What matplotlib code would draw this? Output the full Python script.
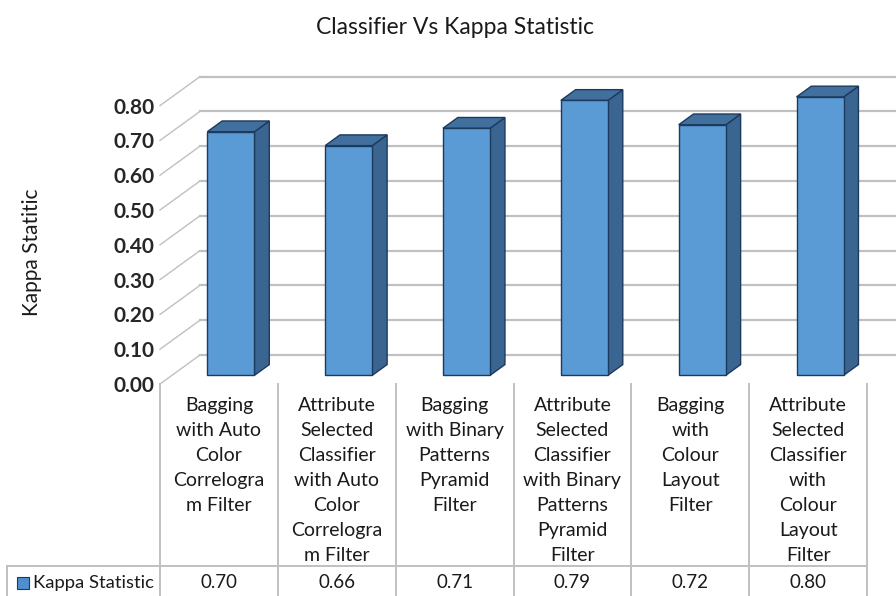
import matplotlib.pyplot as plt
from matplotlib.patches import Polygon, Rectangle

# classifier names, wrapped the way the data table shows them
categories = [
    "Bagging\nwith Auto\nColor\nCorrelogra\nm Filter",
    "Attribute\nSelected\nClassifier\nwith Auto\nColor\nCorrelogra\nm Filter",
    "Bagging\nwith Binary\nPatterns\nPyramid\nFilter",
    "Attribute\nSelected\nClassifier\nwith Binary\nPatterns\nPyramid\nFilter",
    "Bagging\nwith\nColour\nLayout\nFilter",
    "Attribute\nSelected\nClassifier\nwith\nColour\nLayout\nFilter",
]
kappa = [0.70, 0.66, 0.71, 0.79, 0.72, 0.80]
y_ticks = [0.0, 0.1, 0.2, 0.3, 0.4, 0.5, 0.6, 0.7, 0.8]
series_name = "Kappa Statistic"

plt.rcParams['font.family'] = ['Lato', 'DejaVu Sans']

W, H = 896, 596
fig = plt.figure(figsize=(W / 100, H / 100), dpi=100)
# front plane of the 3d box: x from 160px to 867px, y=0 at 212px from bottom
ax = fig.add_axes([160 / W, 212 / H, 707 / W, 278.4 / H])
ax.set_xlim(-0.5, 5.5)
ax.set_ylim(0, 0.8)
for s in ax.spines.values():
    s.set_visible(False)

ux = 6 / 707          # x data units per pixel
uy = 0.8 / 278.4      # y data units per pixel
DX, DY = 40, 29       # depth direction of the box in pixels


def depth(d):
    return d * DX * ux, d * DY * uy


def row(px_top):
    # y data value of a pixel row counted from the top of the figure
    return (H - px_top - 212) * uy


grid_col = "#c0c0c0"
wx, wy = depth(1.0)
for v in y_ticks:
    # back wall gridline and side wall diagonal
    ax.plot([-0.5 + wx, 5.5 + wx], [v + wy, v + wy], color=grid_col, lw=1.6,
            clip_on=False, zorder=1)
    ax.plot([-0.5, -0.5 + wx], [v, v + wy], color=grid_col, lw=1.0,
            clip_on=False, zorder=1)

# bars
bw = 0.40
d1, d2 = 0.30, 0.67
x1, y1 = depth(d1)
x2, y2 = depth(d2)
edge = "#1c3a5e"
for i, v in enumerate(kappa):
    r = i + bw / 2
    l = i - bw / 2
    side = Polygon([(r + x1, y1), (r + x2, y2), (r + x2, v + y2), (r + x1, v + y1)],
                   closed=True, facecolor="#3b6591", edgecolor=edge, lw=1.0,
                   zorder=3, clip_on=False)
    top = Polygon([(l + x1, v + y1), (r + x1, v + y1), (r + x2, v + y2), (l + x2, v + y2)],
                  closed=True, facecolor="#41709f", edgecolor=edge, lw=1.0,
                  zorder=3, clip_on=False)
    ax.add_patch(side)
    ax.add_patch(top)
bars = ax.bar([i + x1 for i in range(len(kappa))], kappa, width=bw, bottom=y1,
              color="#5b9bd5", edgecolor=edge, linewidth=1.0, zorder=4)
for b in bars:
    b.set_clip_on(False)

ax.set_yticks(y_ticks)
ax.set_yticklabels([f"{t:.2f}" for t in y_ticks], fontsize=15, fontweight="bold",
                   color="#262626")
ax.tick_params(axis="y", length=0, pad=4)
ax.set_xticks([])

# data table below the plot
bottom = row(H + 2)
line_kw = dict(color=grid_col, lw=1.4, clip_on=False, zorder=2)
for k in range(len(categories) + 1):
    ax.plot([k - 0.5, k - 0.5], [0, bottom], **line_kw)
x_left = -0.5 - 153 * ux
ax.plot([x_left, 5.5], [row(566), row(566)], **line_kw)
ax.plot([x_left, x_left], [row(566), bottom], **line_kw)

for i, name in enumerate(categories):
    ax.text(i, row(397), name, ha="center", va="top", fontsize=14,
            linespacing=1.57, color="#1a1a1a", clip_on=False)
    ax.text(i, row(583), f"{kappa[i]:.2f}", ha="center", va="center", fontsize=13.5,
            color="#1a1a1a", clip_on=False)

ax.add_patch(Rectangle((-0.5 - 143 * ux, row(589)), 12 * ux, 12 * uy,
                       facecolor="#4f8fcf", edgecolor=edge, lw=0.8, clip_on=False))
ax.text(-0.5 - 127 * ux, row(583), series_name, ha="left", va="center",
        fontsize=13.3, color="#1a1a1a", clip_on=False)

fig.text(32 / W, 1 - 252 / H, "Kappa Statitic", rotation=90, ha="center",
         va="center", fontsize=15, color="#1a1a1a")
fig.text(455 / W, 1 - 28 / H, "Classifier Vs Kappa Statistic", ha="center",
         va="center", fontsize=16.5, color="#1a1a1a")

fig.savefig("out.png", dpi=100)
